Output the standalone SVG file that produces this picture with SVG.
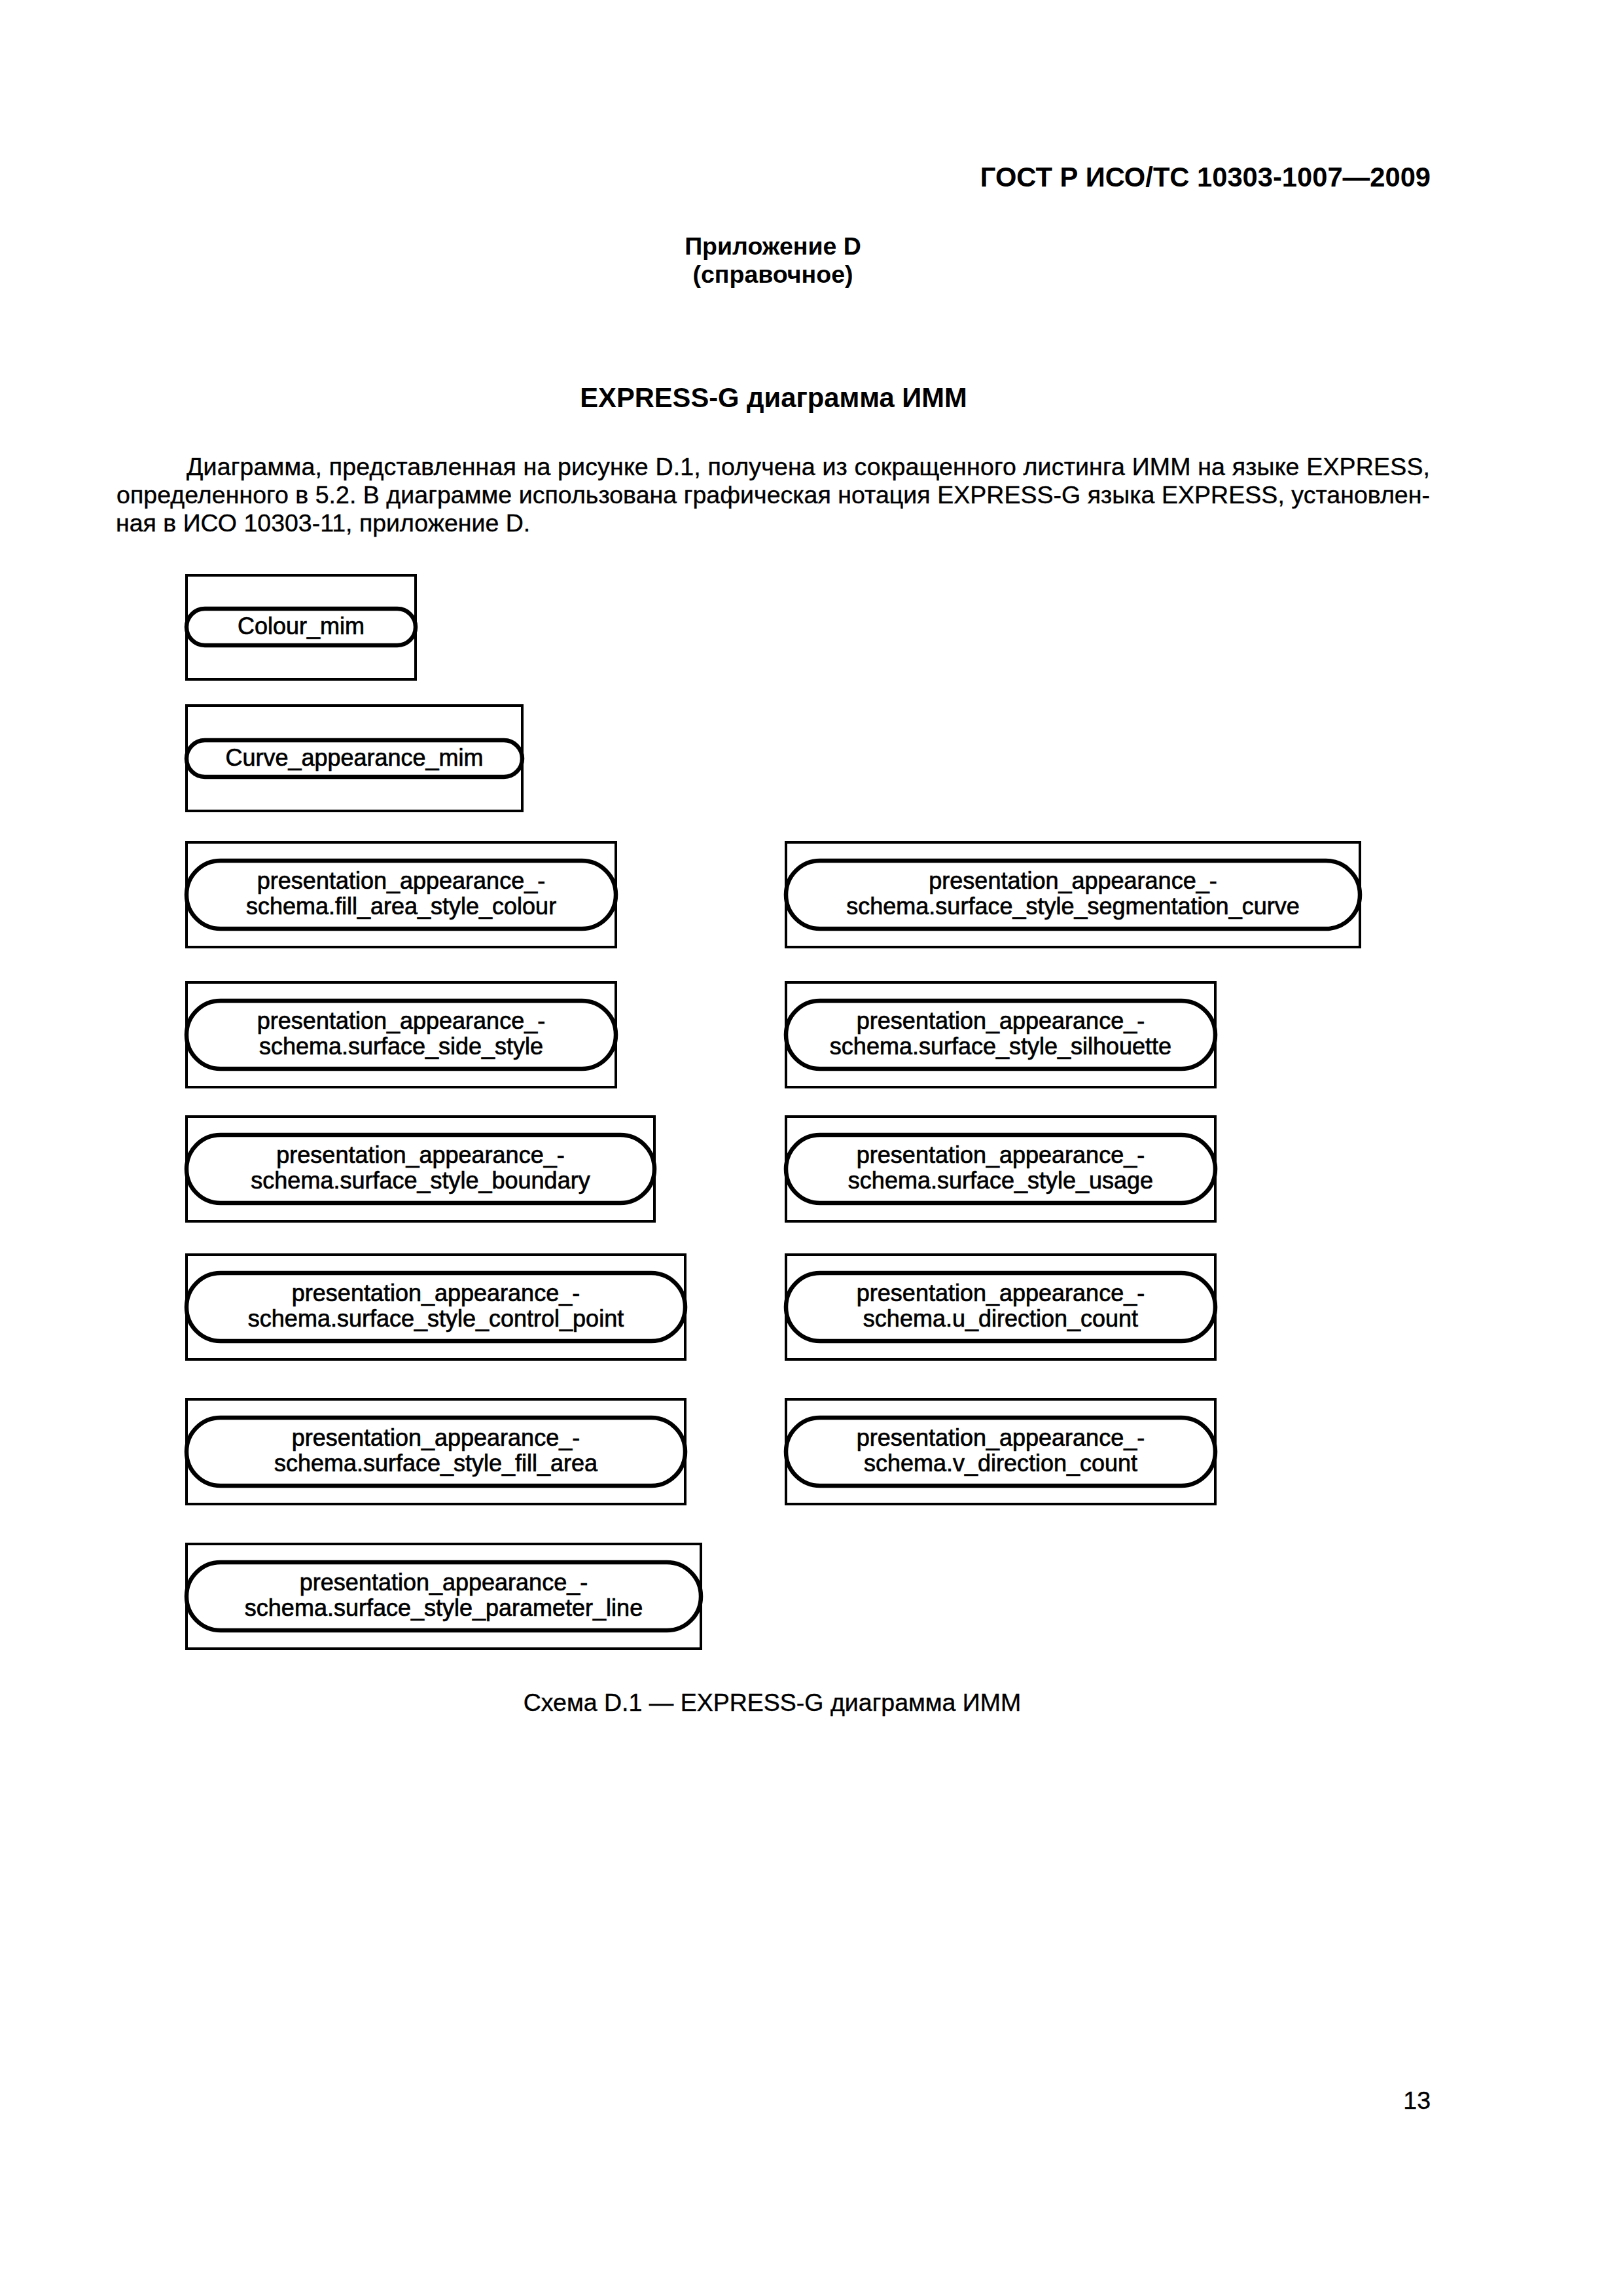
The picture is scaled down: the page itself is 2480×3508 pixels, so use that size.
<svg xmlns="http://www.w3.org/2000/svg" width="2480" height="3508" viewBox="0 0 2480 3508">
<style>
.page{fill:#fff}
.frame{fill:none;stroke:#000;stroke-width:4}
.pill{fill:#fff;stroke:#000;stroke-width:6.5}
.lbl{font-family:"Liberation Sans",Arial,sans-serif;font-size:36px;text-anchor:middle;fill:#000;stroke:#000;stroke-width:0.7}
.body{font-family:"Liberation Sans",Arial,sans-serif;font-size:37.5px;fill:#000;stroke:#000;stroke-width:0.4}
.bold{font-family:"Liberation Sans",Arial,sans-serif;font-weight:bold;fill:#000}
</style>
<rect class="page" x="0" y="0" width="2480" height="3508"/>
<g id="page-text">
<text class="bold" x="2186" y="285" font-size="41.7" text-anchor="end">ГОСТ Р ИСО/ТС 10303-1007—2009</text>
<text class="bold" x="1181" y="389" font-size="37.5" text-anchor="middle">Приложение D</text>
<text class="bold" x="1181" y="432" font-size="37.5" text-anchor="middle">(справочное)</text>
<text class="bold" x="1182" y="622" font-size="41.7" text-anchor="middle">EXPRESS-G диаграмма ИММ</text>
<text class="body" x="285" y="726" textLength="1900" lengthAdjust="spacing">Диаграмма, представленная на рисунке D.1, получена из сокращенного листинга ИММ на языке EXPRESS,</text>
<text class="body" x="178" y="769" textLength="2007" lengthAdjust="spacing">определенного в 5.2. В диаграмме использована графическая нотация EXPRESS-G языка EXPRESS, установлен-</text>
<text class="body" x="177" y="812">ная в ИСО 10303-11, приложение D.</text>
<text class="body" x="1180" y="2614" text-anchor="middle">Схема D.1 — EXPRESS-G диаграмма ИММ</text>
<text class="body" x="2186" y="3222" text-anchor="end">13</text>
</g>
<g id="connectors"/>
<g id="n-colour-mim">
<rect class="frame" x="285" y="879" width="350" height="159"/>
<rect class="pill" x="285" y="930" width="350" height="56" rx="28"/>
<text class="lbl" x="460" y="969">Colour_mim</text>
</g>
<g id="n-curve-appearance-mim">
<rect class="frame" x="285" y="1078" width="513" height="161"/>
<rect class="pill" x="285" y="1131" width="513" height="56" rx="28"/>
<text class="lbl" x="541.5" y="1170">Curve_appearance_mim</text>
</g>
<g id="n-fill-area-style-colour">
<rect class="frame" x="285" y="1287" width="656" height="160"/>
<rect class="pill" x="285" y="1315" width="656" height="104" rx="52"/>
<text class="lbl" x="613" y="1358">presentation_appearance_-</text>
<text class="lbl" x="613" y="1397">schema.fill_area_style_colour</text>
</g>
<g id="n-surface-side-style">
<rect class="frame" x="285" y="1501" width="656" height="160"/>
<rect class="pill" x="285" y="1529" width="656" height="104" rx="52"/>
<text class="lbl" x="613" y="1572">presentation_appearance_-</text>
<text class="lbl" x="613" y="1611">schema.surface_side_style</text>
</g>
<g id="n-surface-style-boundary">
<rect class="frame" x="285" y="1706" width="715" height="160"/>
<rect class="pill" x="285" y="1734" width="715" height="104" rx="52"/>
<text class="lbl" x="642.5" y="1777">presentation_appearance_-</text>
<text class="lbl" x="642.5" y="1816">schema.surface_style_boundary</text>
</g>
<g id="n-surface-style-control-point">
<rect class="frame" x="285" y="1917" width="762" height="160"/>
<rect class="pill" x="285" y="1945" width="762" height="104" rx="52"/>
<text class="lbl" x="666" y="1988">presentation_appearance_-</text>
<text class="lbl" x="666" y="2027">schema.surface_style_control_point</text>
</g>
<g id="n-surface-style-fill-area">
<rect class="frame" x="285" y="2138" width="762" height="160"/>
<rect class="pill" x="285" y="2166" width="762" height="104" rx="52"/>
<text class="lbl" x="666" y="2209">presentation_appearance_-</text>
<text class="lbl" x="666" y="2248">schema.surface_style_fill_area</text>
</g>
<g id="n-surface-style-parameter-line">
<rect class="frame" x="285" y="2359" width="786" height="160"/>
<rect class="pill" x="285" y="2387" width="786" height="104" rx="52"/>
<text class="lbl" x="678" y="2430">presentation_appearance_-</text>
<text class="lbl" x="678" y="2469">schema.surface_style_parameter_line</text>
</g>
<g id="n-surface-style-segmentation-curve">
<rect class="frame" x="1201" y="1287" width="877" height="160"/>
<rect class="pill" x="1201" y="1315" width="877" height="104" rx="52"/>
<text class="lbl" x="1639.5" y="1358">presentation_appearance_-</text>
<text class="lbl" x="1639.5" y="1397">schema.surface_style_segmentation_curve</text>
</g>
<g id="n-surface-style-silhouette">
<rect class="frame" x="1201" y="1501" width="656" height="160"/>
<rect class="pill" x="1201" y="1529" width="656" height="104" rx="52"/>
<text class="lbl" x="1529" y="1572">presentation_appearance_-</text>
<text class="lbl" x="1529" y="1611">schema.surface_style_silhouette</text>
</g>
<g id="n-surface-style-usage">
<rect class="frame" x="1201" y="1706" width="656" height="160"/>
<rect class="pill" x="1201" y="1734" width="656" height="104" rx="52"/>
<text class="lbl" x="1529" y="1777">presentation_appearance_-</text>
<text class="lbl" x="1529" y="1816">schema.surface_style_usage</text>
</g>
<g id="n-u-direction-count">
<rect class="frame" x="1201" y="1917" width="656" height="160"/>
<rect class="pill" x="1201" y="1945" width="656" height="104" rx="52"/>
<text class="lbl" x="1529" y="1988">presentation_appearance_-</text>
<text class="lbl" x="1529" y="2027">schema.u_direction_count</text>
</g>
<g id="n-v-direction-count">
<rect class="frame" x="1201" y="2138" width="656" height="160"/>
<rect class="pill" x="1201" y="2166" width="656" height="104" rx="52"/>
<text class="lbl" x="1529" y="2209">presentation_appearance_-</text>
<text class="lbl" x="1529" y="2248">schema.v_direction_count</text>
</g>
</svg>
